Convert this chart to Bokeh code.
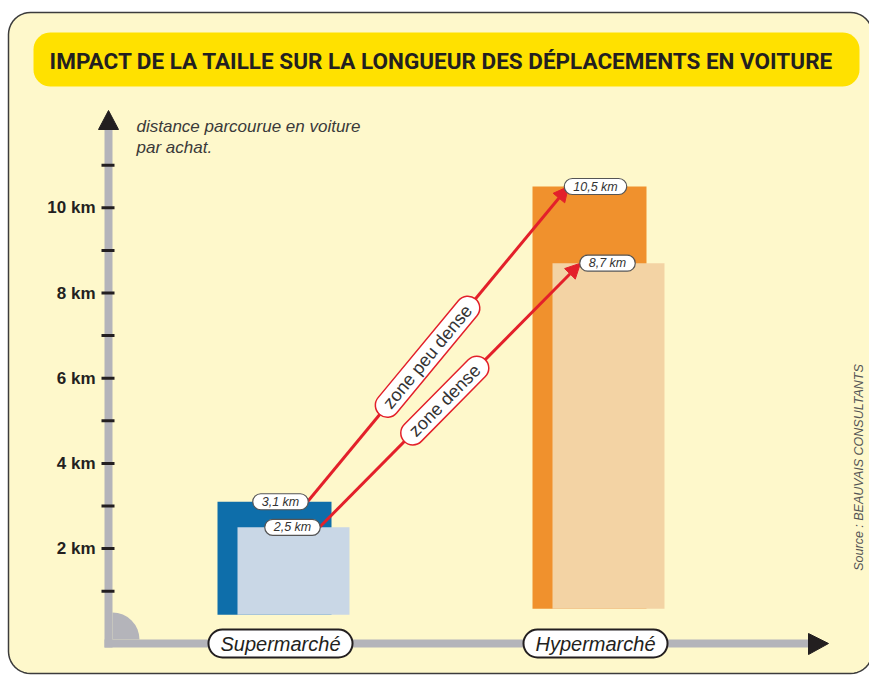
import math
from bokeh.plotting import figure
from bokeh.models import Range1d, Label, Arrow, NormalHead, ColumnDataSource
from bokeh.core.properties import value
from bokeh.embed import file_html
from bokeh.resources import INLINE

# ---------------- data ----------------
categories = ["Supermarché", "Hypermarché"]
km_zone_peu_dense = [3.1, 10.5]
km_zone_dense = [2.5, 8.7]
labels_peu_dense = ["3,1 km", "10,5 km"]
labels_dense = ["2,5 km", "8,7 km"]
zone_names = ["zone peu dense", "zone dense"]
y_ticks = [1, 2, 3, 4, 5, 6, 7, 8, 9, 10, 11]
y_tick_values = [2, 4, 6, 8, 10]
y_tick_labels = ["2 km", "4 km", "6 km", "8 km", "10 km"]
title_text = "IMPACT DE LA TAILLE SUR LA LONGUEUR DES DÉPLACEMENTS EN VOITURE"
axis_caption = "distance parcourue en voiture\npar achat."
source_note = "Source : BEAUVAIS CONSULTANTS"

# ---------------- layout / style ----------------
W, H = 869, 675
ZERO_Y = 633.3      # picture row of 0 km
PX_PER_KM = 42.6


def km(py):
    return (ZERO_Y - py) / PX_PER_KM


def rrect(x0, y0, x1, y1, r, n=10):
    xs, ys = [], []
    corners = [(x1 - r, y0 + r, -90), (x1 - r, y1 - r, 0), (x0 + r, y1 - r, 90), (x0 + r, y0 + r, 180)]
    for cx, cy, a0 in corners:
        for i in range(n + 1):
            a = math.radians(a0 + 90 * i / n)
            xs.append(cx + r * math.cos(a))
            ys.append(km(cy + r * math.sin(a)))
    return xs, ys


CREAM = "#FEF8CB"
YELLOW = "#FFE100"
GREY_AXIS = "#B4B4BA"
DARK = "#231F20"
RED = "#E3202A"
BACK_COLORS = ["#0E6EAA", "#F0912D"]
FRONT_COLORS = ["#C9D7E6", "#F3D3A4"]
FONT = "Liberation Sans"

cat_x = [274, 589]          # centre of the back bar, in px
bar_base = [0.45, 0.59]
back_w, front_w, front_shift = 114, 112, 20

p = figure(width=W, height=H, output_backend="svg", toolbar_location=None,
           x_range=Range1d(0, W), y_range=Range1d(km(H), km(0)),
           x_axis_location=None, y_axis_location=None, min_border=0)
p.outline_line_color = None
p.background_fill_color = "white"
p.border_fill_color = "white"
p.grid.visible = False

# frame
fx, fy = rrect(8, 12, 872, 673, 22)
p.patch(fx, fy, fill_color=CREAM, line_color="#3C3C3C", line_width=1.5)

# title banner
tx, ty = rrect(33, 32, 859, 86, 17)
p.patch(tx, ty, fill_color=YELLOW, line_color=None)
p.add_layout(Label(x=441, y=km(60), text=title_text, text_align="center", text_baseline="middle",
                   text_font="Roboto", text_font_style="bold", text_font_size="22.5px", text_color=DARK))

# y axis
p.segment(x0=[108], y0=[km(647)], x1=[108], y1=[km(126)], line_color=GREY_AXIS, line_width=8)
p.patch([98, 118, 108], [km(129), km(129), km(110)], fill_color=DARK, line_color=DARK)
p.segment(x0=101, x1=114, y0=y_ticks, y1=y_ticks, line_color=DARK, line_width=3)
p.text(x=95, y=y_tick_values, text=y_tick_labels, text_align="right", text_baseline="middle",
       text_font=value(FONT), text_font_style="bold", text_font_size="17px", text_color=DARK)

# x axis
p.segment(x0=[104], y0=[km(643)], x1=[812], y1=[km(643)], line_color=GREY_AXIS, line_width=8)
p.patch([808, 808, 828], [km(633), km(654), km(643)], fill_color=DARK, line_color=DARK)
p.wedge(x=[112], y=[km(639)], radius=27, radius_units="screen", start_angle=0, end_angle=math.pi / 2,
        fill_color=GREY_AXIS, line_color=None)

# caption
p.add_layout(Label(x=136, y=km(116), text=axis_caption, text_align="left", text_baseline="top",
                   text_font=FONT, text_font_style="italic", text_font_size="17px",
                   text_color="#3A3A3A", text_line_height=1.12))

# bars
src = ColumnDataSource(dict(
    back_left=[c - back_w / 2 for c in cat_x],
    back_right=[c + back_w / 2 for c in cat_x],
    front_left=[c - back_w / 2 + front_shift for c in cat_x],
    front_right=[c - back_w / 2 + front_shift + front_w for c in cat_x],
    peu=km_zone_peu_dense, dense=km_zone_dense, base=bar_base,
    back_color=BACK_COLORS, front_color=FRONT_COLORS))
p.quad(left="back_left", right="back_right", top="peu", bottom="base", fill_color="back_color",
       line_color=None, source=src)
p.quad(left="front_left", right="front_right", top="dense", bottom="base", fill_color="front_color",
       line_color=None, source=src)

# value pills
LBL_HALF = 27
peu_cx = [c + 6 for c in cat_x]
dense_cx = [c + front_shift - 2 for c in cat_x]


def pill(x, y, text, size, border, bw, radius, pad, angle=0.0, color="#333333", style="italic"):
    p.add_layout(Label(x=x, y=y, text=text, text_align="center", text_baseline="middle", angle=angle,
                       text_font=FONT, text_font_style=style, text_font_size=size,
                       text_color=color, background_fill_color="white", border_line_color=border,
                       border_line_width=bw, border_radius=radius, padding=pad))


# arrows
series = [(peu_cx, km_zone_peu_dense, 0.46), (dense_cx, km_zone_dense, 0.48)]
for k, (cx, vals, frac) in enumerate(series):
    xs, ys = cx[0] + LBL_HALF, vals[0]
    xe, ye = cx[1] - LBL_HALF, vals[1]
    p.add_layout(Arrow(x_start=xs, y_start=ys, x_end=xe, y_end=ye, line_color=RED, line_width=3,
                       end=NormalHead(size=15, fill_color=RED, line_color=RED)))
    ang = math.atan2((ye - ys) * PX_PER_KM, xe - xs)
    pill(xs + frac * (xe - xs), ys + frac * (ye - ys), zone_names[k], "18px", RED, 1.5, 12,
         dict(left=11, right=11, top=2, bottom=2), angle=ang, style="normal")

for cx, vals, labs in [(peu_cx, km_zone_peu_dense, labels_peu_dense), (dense_cx, km_zone_dense, labels_dense)]:
    for x, v, t in zip(cx, vals, labs):
        pill(x, v, t, "12.5px", "#555555", 1.2, 8, dict(left=9, right=9, top=1, bottom=1))

# category pills
for c, name in zip(cat_x, categories):
    pill(c + 6, km(643), name, "20px", DARK, 2, 14, dict(left=12, right=12, top=3, bottom=3), color=DARK)

# source
p.add_layout(Label(x=858, y=km(467), text=source_note, angle=math.pi / 2, text_align="center",
                   text_baseline="middle", text_font=FONT, text_font_style="italic",
                   text_font_size="12.5px", text_color="#555555"))

open("out.html", "w").write(file_html(p, INLINE))
